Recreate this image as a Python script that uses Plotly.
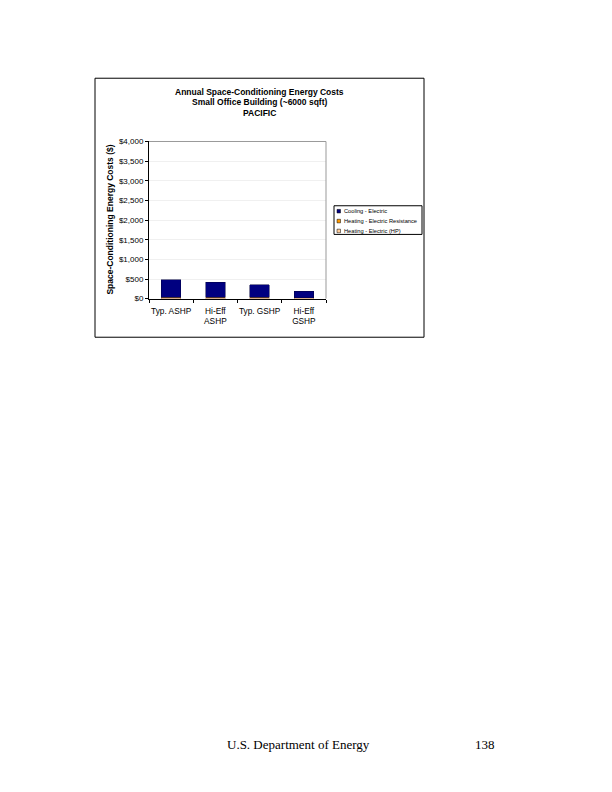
import plotly.graph_objects as go

# page is drawn with an 8px body margin, so shift everything by that
OFF = 8
W, H = 612 - OFF, 792 - OFF

categories = ["Typ. ASHP", "Hi-Eff<br>ASHP", "Typ. GSHP", "Hi-Eff<br>GSHP"]
heating_hp = [35, 32, 32, 25]
heating_resistance = [0, 0, 0, 0]
cooling = [443, 388, 328, 168]

series_names = ["Cooling - Electric", "Heating - Electric Resistance", "Heating - Electric (HP)"]
series_colors = ["#000080", "#ff9900", "#ffcc99"]

title_lines = ["Annual Space-Conditioning Energy Costs",
               "Small Office Building (~6000 sqft)",
               "PACIFIC"]
y_ticks = [0, 500, 1000, 1500, 2000, 2500, 3000, 3500, 4000]
y_tick_labels = ["$0", "$500", "$1,000", "$1,500", "$2,000", "$2,500", "$3,000", "$3,500", "$4,000"]


def px(x):
    return (x - OFF) / W


def py(y):
    return 1 - (y - OFF) / H


font = "Liberation Sans, Arial, sans-serif"

fig = go.Figure()
fig.add_trace(go.Bar(x=categories, y=heating_hp, name=series_names[2],
                     marker=dict(color=series_colors[2], line=dict(color="#a07050", width=0.5))))
fig.add_trace(go.Bar(x=categories, y=heating_resistance, name=series_names[1],
                     marker=dict(color=series_colors[1], line=dict(color="#805000", width=0.5))))
fig.add_trace(go.Bar(x=categories, y=cooling, name=series_names[0],
                     marker=dict(color=series_colors[0], line=dict(color="#000040", width=0.5))))

fig.update_layout(
    width=W, height=H,
    margin=dict(l=0, r=0, t=0, b=0),
    paper_bgcolor="white", plot_bgcolor="white",
    barmode="stack", bargap=0.56, showlegend=False,
    font=dict(family=font, size=8, color="black"),
    xaxis=dict(domain=[px(149), px(326)], showline=True, linecolor="black", linewidth=1,
               ticks="outside", tickson="boundaries", ticklen=3, tickcolor="black",
               tickangle=0, ticklabelstandoff=4, tickfont=dict(size=8.3), showgrid=False),
    yaxis=dict(domain=[py(298), py(139)], range=[0, 4000], tickvals=y_ticks,
               ticktext=y_tick_labels, showline=True, linecolor="black",
               linewidth=1, ticks="outside", ticklen=3, tickcolor="black",
               tickfont=dict(size=8), showgrid=True, gridcolor="#f0f0f0", zeroline=False),
)

# chart outer frame and plot area border
fig.add_shape(type="rect", xref="paper", yref="paper", x0=px(95), x1=px(424),
              y0=py(337), y1=py(75), line=dict(color="black", width=1))
fig.add_shape(type="line", xref="paper", yref="paper", x0=px(149), x1=px(326),
              y0=py(139), y1=py(139), line=dict(color="#999999", width=1))
fig.add_shape(type="line", xref="paper", yref="paper", x0=px(326), x1=px(326),
              y0=py(298), y1=py(139), line=dict(color="#999999", width=1))

# legend box drawn by hand to keep Excel's compact spacing
fig.add_shape(type="rect", xref="paper", yref="paper", x0=px(334), x1=px(422),
              y0=py(233), y1=py(204), line=dict(color="black", width=1), fillcolor="white")
for i, (name, color) in enumerate(zip(series_names, series_colors)):
    yc = 209.5 + i * 10
    fig.add_shape(type="rect", xref="paper", yref="paper", x0=px(337), x1=px(340.5),
                  y0=py(yc + 1.8), y1=py(yc - 1.8), fillcolor=color,
                  line=dict(color="black", width=0.5))
    fig.add_annotation(text=name, xref="paper", yref="paper", x=px(341.5), y=py(yc),
                       xanchor="left", yanchor="middle", showarrow=False,
                       font=dict(size=5.7))

for i, line in enumerate(title_lines):
    fig.add_annotation(text="<b>%s</b>" % line, xref="paper", yref="paper",
                       x=px(259), y=py(88.5 + i * 11), showarrow=False,
                       font=dict(size=8.5), xanchor="center", yanchor="middle")

fig.add_annotation(text="<b>Space-Conditioning Energy Costs ($)</b>", xref="paper",
                   yref="paper", x=px(110), y=py(218), textangle=-90, showarrow=False,
                   font=dict(size=8.5), xanchor="center", yanchor="middle")

fig.add_annotation(text="U.S. Department of Energy", xref="paper", yref="paper",
                   x=px(225), y=py(749.5), xanchor="left", yanchor="middle", showarrow=False,
                   font=dict(family="Liberation Serif, serif", size=13))
fig.add_annotation(text="138", xref="paper", yref="paper",
                   x=px(497), y=py(749.5), xanchor="right", yanchor="middle", showarrow=False,
                   font=dict(family="Liberation Serif, serif", size=13))

fig.write_html("out.html")
